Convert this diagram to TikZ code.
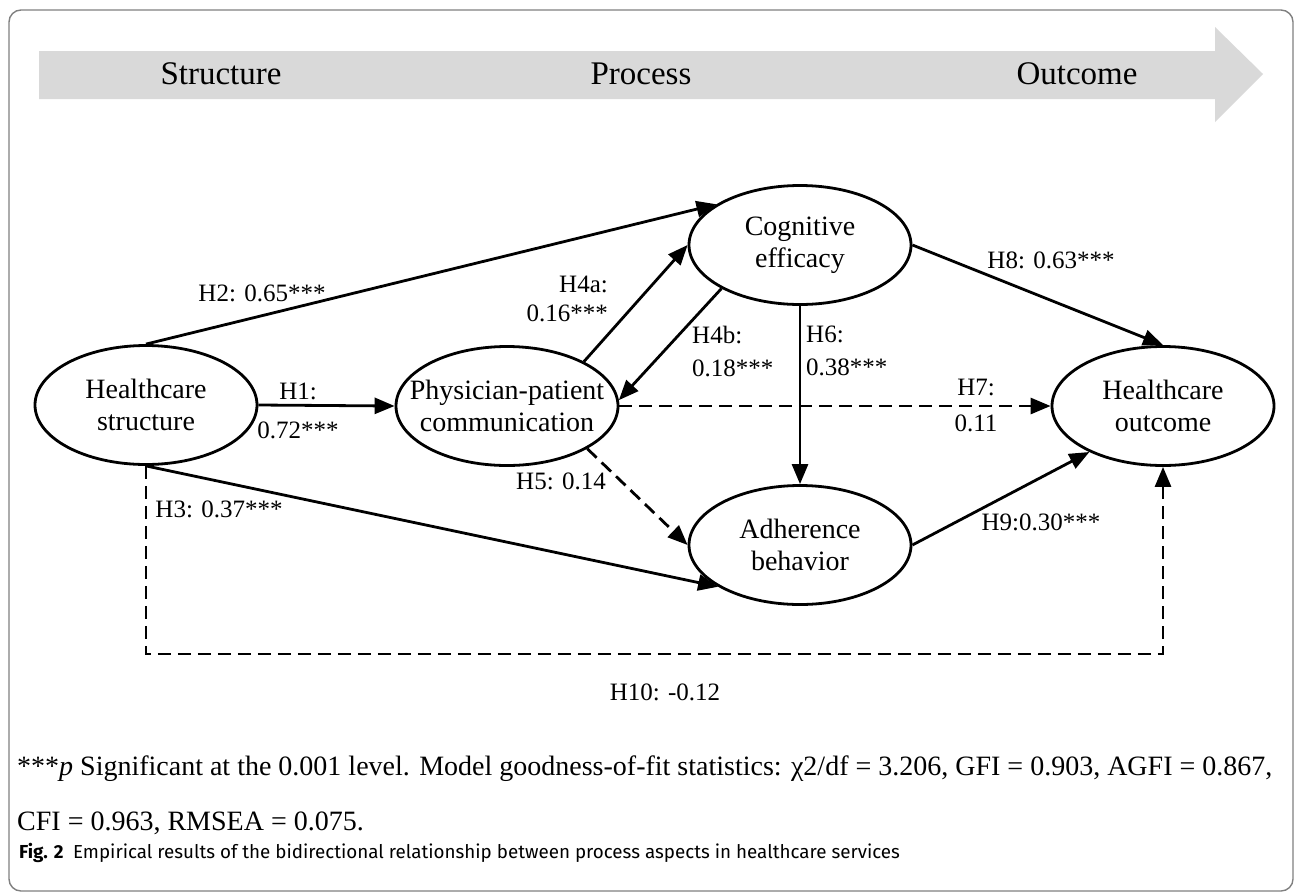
\documentclass[tikz,border=0pt]{standalone}
\usepackage{fontspec}
\setmainfont{Liberation Serif}
\newfontfamily\capfont{Fira Sans}
\usetikzlibrary{arrows.meta,shapes.geometric}
\begin{document}
\begin{tikzpicture}[x=1pt,y=-1pt,
  var/.style={ellipse, draw, line width=2.8pt, minimum width=222pt, minimum height=119pt,
    inner xsep=-45pt, inner ysep=0pt, align=center,
    font=\fontsize{28}{32}\selectfont},
  edge/.style={line width=2.8pt, -{Triangle[length=20pt,width=16pt]}},
  dedge/.style={edge, dash pattern=on 13pt off 7pt},
  lbl/.style={inner sep=0pt, font=\fontsize{25}{33}\selectfont},
  hdr/.style={inner sep=0pt, font=\fontsize{33}{36}\selectfont},
  foot/.style={inner sep=0pt, anchor=west, font=\fontsize{28}{32}\selectfont}]
\useasboundingbox (0,0) rectangle (1295,892);
% frame
\draw[gray, line width=1.4pt, rounded corners=12pt] (9,10) rectangle (1293,891);
% header arrow
\fill[black!15] (39,51) -- (1215,51) -- (1215,27) -- (1263,74) -- (1215,122) -- (1215,99) -- (39,99) -- cycle;
\node[hdr] (tS) at (221,74) {Structure};
\node[hdr] (tP) at (641,74) {Process};
\node[hdr] (tO) at (1077,74) {Outcome};
% variables
\node[var] (hs) at (146,405) {Healthcare\\structure};
\node[var] (ppc) at (507,406) {Physician-patient\\communication};
\node[var] (ce) at (800,245) {Cognitive\\efficacy};
\node[var] (ab) at (800,545) {Adherence\\behavior};
\node[var] (ho) at (1163,406) {Healthcare\\outcome};
\coordinate (h10c) at (660,654);
% paths
\draw[edge] (hs.east) -- (ppc.west);
\draw[edge] (hs.north) -- (ce.154);
\draw[edge] (hs.south) -- (ab.207);
\draw[edge] (ppc.30) -- (ce.west);
\draw[edge] (ce.209) -- (ppc.3);
\draw[dedge] (ppc.-28) -- (ab.west);
\draw[edge] (ce.south) -- (ab.north);
\draw[dedge] (ppc.east) -- (ho.west);
\draw[edge] (ce.east) -- (ho.north);
\draw[edge] (ab.east) -- (ho.212);
\draw[dedge] (hs.south) |- (h10c) -| (ho.south);
% labels
\node[lbl, align=center, font=\fontsize{25}{39}\selectfont] (l1) at (298,411) {H1:\\0.72***};
\node[lbl] (l2) at (262,293) {H2: 0.65***};
\node[lbl] (l3) at (219,509) {H3: 0.37***};
\node[lbl, align=right, anchor=east, font=\fontsize{25}{29}\selectfont] (l4a) at (608,299) {H4a:\\0.16***};
\node[lbl, align=left, anchor=west] (l4b) at (692,351) {H4b:\\0.18***};
\node[lbl] (l5) at (561,481) {H5: 0.14};
\node[lbl, align=left, anchor=west] (l6) at (806,351) {H6:\\0.38***};
\node[lbl, align=center, font=\fontsize{25}{36}\selectfont] (l7) at (976,405) {H7:\\0.11};
\node[lbl] (l8) at (1051,260) {H8: 0.63***};
\node[lbl] (l9) at (1041,522) {H9:0.30***};
\node[lbl] (l10) at (665,692) {H10: -0.12};
% footnote
\node[foot] (f1) at (17,769) {***\textit{p} Significant at the 0.001 level. Model goodness-of-fit statistics: χ2/df = 3.206, GFI = 0.903, AGFI = 0.867,};
\node[foot] (f2) at (17,823) {CFI = 0.963, RMSEA = 0.075.};
\node[foot, font=\capfont\fontsize{18.8}{22}\selectfont] (cap) at (19,853) {\textbf{Fig. 2}\enspace Empirical results of the bidirectional relationship between process aspects in healthcare services};
\end{tikzpicture}
\end{document}
